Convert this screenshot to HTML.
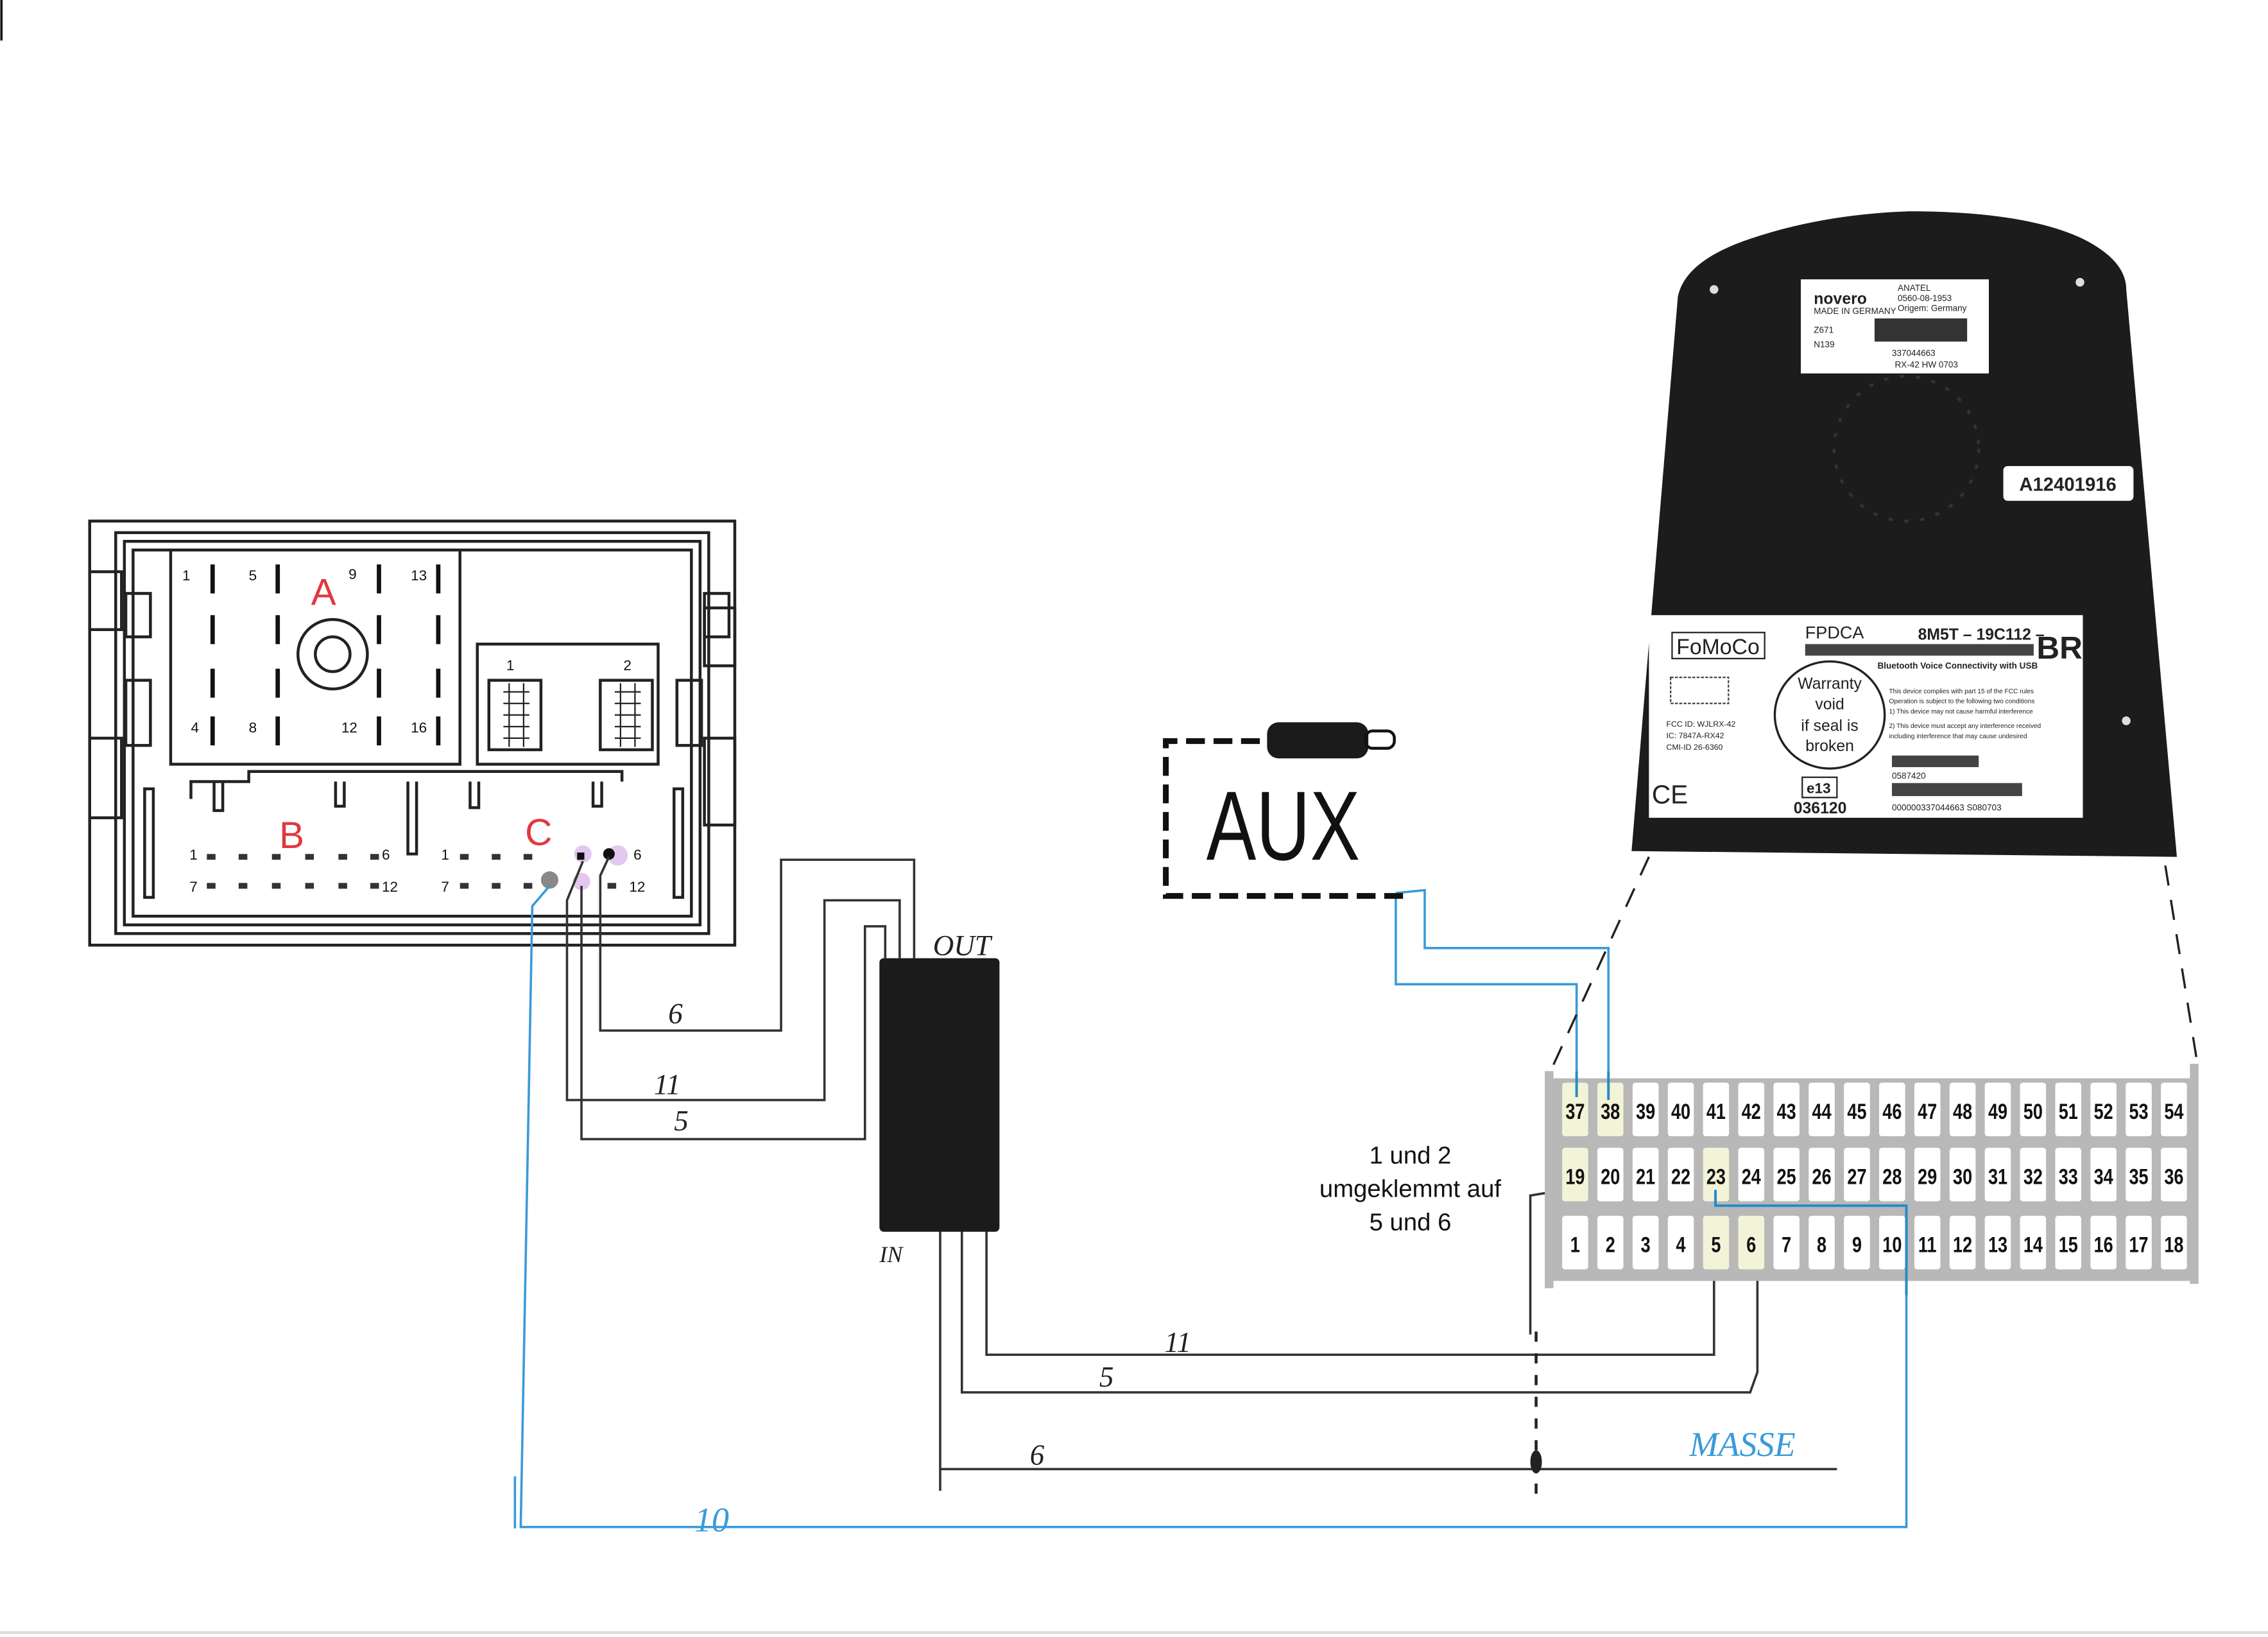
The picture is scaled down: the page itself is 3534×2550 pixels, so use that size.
<!DOCTYPE html>
<html><head><meta charset="utf-8"><style>
html,body{margin:0;padding:0;background:#fff;}
svg{display:block;}
.h{font-family:"Liberation Sans",sans-serif;}
</style></head><body>
<svg width="3534" height="2550" viewBox="0 0 1568 1131" preserveAspectRatio="none" xmlns="http://www.w3.org/2000/svg">
<rect width="1568" height="1131" fill="#fff"/>
<line x1="1" y1="0" x2="1" y2="28" stroke="#000" stroke-width="1.5"/>
<line x1="0" y1="1128" x2="1568" y2="1128" stroke="#ddd" stroke-width="2"/>

<!-- LEFT CONNECTOR -->
<g fill="none" stroke="#222" stroke-width="2">
 <rect x="62" y="360" width="446" height="293"/>
 <rect x="80" y="368" width="410" height="277"/>
 <rect x="86" y="374" width="398" height="265"/>
 <rect x="92" y="380" width="386" height="253"/>
 <rect x="62" y="395" width="22" height="40"/><rect x="62" y="510" width="22" height="55"/>
 <rect x="87" y="410" width="17" height="30"/><rect x="487" y="410" width="17" height="30"/>
 <rect x="87" y="470" width="17" height="45"/><rect x="468" y="470" width="17" height="45"/>
 <rect x="487" y="420" width="21" height="40"/><rect x="487" y="510" width="21" height="60"/>
 <rect x="100" y="545" width="6" height="75"/><rect x="466" y="545" width="6" height="75"/>
 <rect x="118" y="380" width="200" height="148"/>
 <rect x="330" y="445" width="125" height="83"/>
 <rect x="338" y="470" width="36" height="48"/><rect x="415" y="470" width="36" height="48"/>
 <circle cx="230" cy="452" r="24"/><circle cx="230" cy="452" r="12"/>
 <path d="M132 552 V540 H172 V533 H430 V540"/>
 <path d="M148 540 V560 H154 V540 M232 540 V557 H238 V540 M282 540 V590 H288 V540 M325 540 V558 H331 V540 M410 540 V557 H416 V540"/>
 <path d="M348 478 H366 M348 486 H366 M348 494 H366 M348 502 H366 M348 510 H366 M352 472 V516 M362 472 V516 M425 478 H443 M425 486 H443 M425 494 H443 M425 502 H443 M425 510 H443 M429 472 V516 M439 472 V516" stroke-width="1"/>
</g>
<g stroke="#111" stroke-width="3">
 <path d="M147 390 V410 M147 425 V445 M147 462 V482 M147 495 V515 M192 390 V410 M192 425 V445 M192 462 V482 M192 495 V515 M262 390 V410 M262 425 V445 M262 462 V482 M262 495 V515 M303 390 V410 M303 425 V445 M303 462 V482 M303 495 V515"/>
</g>
<g class="h" font-size="10" fill="#111">
 <text x="126" y="401">1</text><text x="172" y="401">5</text><text x="241" y="400">9</text><text x="284" y="401">13</text>
 <text x="132" y="506">4</text><text x="172" y="506">8</text><text x="236" y="506">12</text><text x="284" y="506">16</text>
 <text x="350" y="463">1</text><text x="431" y="463">2</text>
 <text x="131" y="594">1</text><text x="264" y="594">6</text><text x="131" y="616">7</text><text x="264" y="616">12</text>
 <text x="305" y="594">1</text><text x="438" y="594">6</text><text x="305" y="616">7</text><text x="435" y="616">12</text>
</g>
<g fill="#333"><path d="M143 590h6v4h-6z M165 590h6v4h-6z M188 590h6v4h-6z M211 590h6v4h-6z M234 590h6v4h-6z M256 590h6v4h-6z M143 610h6v4h-6z M165 610h6v4h-6z M188 610h6v4h-6z M211 610h6v4h-6z M234 610h6v4h-6z M256 610h6v4h-6z M318 590h6v4h-6z M340 590h6v4h-6z M362 590h6v4h-6z M318 610h6v4h-6z M340 610h6v4h-6z M362 610h6v4h-6z M420 610h6v4h-6z"/></g>
<circle cx="403" cy="590" r="6" fill="#e2c8ee"/><circle cx="427" cy="591" r="7" fill="#e2c8ee"/><circle cx="402" cy="609" r="6" fill="#e2c8ee"/><circle cx="380" cy="608" r="6" fill="#888"/>
<rect x="399" y="589" width="5" height="5" fill="#111"/><circle cx="421" cy="590" r="4" fill="#111"/>
<g class="h" font-size="26" fill="#e0393e"><text x="215" y="418">A</text><text x="193" y="586">B</text><text x="363" y="584">C</text></g>

<!-- black wires -->
<g fill="none" stroke="#333" stroke-width="1.6">
 <path d="M421 592 L415 605 V712 H540 V594 H632 V662"/>
 <path d="M403 595 L392 622 V760 H570 V622 H622 V662"/>
 <path d="M402 612 V787 H598 V640 H612 V662"/>
 <path d="M682 850 V936 H1185 V877"/>
 <path d="M665 850 V962 H1210 L1215 948 V877"/>
 <path d="M650 850 V1030 M650 1015 H1270"/>
 <path d="M1082 822 L1058 826 V922"/>
</g>
<line x1="1062" y1="920" x2="1062" y2="1038" stroke="#222" stroke-width="2" stroke-dasharray="7,8"/>
<ellipse cx="1062" cy="1010" rx="4" ry="8" fill="#222"/>
<rect x="608" y="662" width="83" height="189" rx="3" fill="#1b1b1b"/>

<!-- blue wires -->
<g fill="none" stroke="#3a9ad8" stroke-width="1.6">
 <path d="M380 612 L368 626 L360 1055 H1318 V885"/>
 <path d="M356 1020 V1056"/>
 <path d="M965 617 L985 615 V655 H1112 V740"/>
 <path d="M965 620 V680 H1090 V740"/>
</g>

<!-- AUX -->
<path d="M970 619 H806 V512 H872" fill="none" stroke="#111" stroke-width="4" stroke-dasharray="13,6"/>
<rect x="876" y="499" width="70" height="25" rx="8" fill="#1b1b1b"/>
<rect x="944" y="505" width="20" height="12" rx="5" fill="none" stroke="#111" stroke-width="2"/>
<text x="834" y="594" class="h" font-size="68" fill="#111" transform="translate(834,594) scale(0.76,1) translate(-834,-594)">AUX</text>

<!-- dashed projection -->
<g stroke="#222" stroke-width="1.5" stroke-dasharray="14,10"><line x1="1140" y1="592" x2="1072" y2="740"/><line x1="1497" y1="598" x2="1520" y2="740"/></g>

<!-- DEVICE -->
<path d="M1128 588 L1160 205 Q1165 180 1210 165 Q1260 148 1320 146 Q1400 146 1440 165 Q1470 180 1470 200 L1505 592 Z" fill="#1c1c1c"/>
<rect x="1245" y="193" width="130" height="65" fill="#fff"/>
<g class="h" fill="#222" font-size="6"><text x="1254" y="210" font-size="11" font-weight="bold">novero</text><text x="1254" y="217">MADE IN GERMANY</text><text x="1254" y="230">Z671</text><text x="1254" y="240">N139</text><text x="1312" y="201">ANATEL</text><text x="1312" y="208">0560-08-1953</text><text x="1312" y="215">Origem: Germany</text><text x="1308" y="246">337044663</text><text x="1310" y="254">RX-42  HW 0703</text></g>
<rect x="1296" y="220" width="64" height="16" fill="#333"/>
<rect x="1385" y="322" width="90" height="24" rx="3" fill="#fff"/>
<text x="1396" y="339" class="h" font-size="13" font-weight="bold" fill="#222">A12401916</text>
<circle cx="1318" cy="310" r="50" fill="none" stroke="#333" stroke-width="2" stroke-dasharray="3,8"/>
<circle cx="1185" cy="200" r="3" fill="#ddd"/><circle cx="1438" cy="195" r="3" fill="#ddd"/><circle cx="1470" cy="498" r="3" fill="#ddd"/>
<rect x="1140" y="425" width="300" height="140" fill="#fff"/>
<g class="h" fill="#222">
 <rect x="1156" y="437" width="64" height="18" fill="none" stroke="#222"/>
 <text x="1159" y="452" font-size="15">FoMoCo</text>
 <text x="1248" y="441" font-size="12">FPDCA</text>
 <text x="1326" y="442" font-size="11" font-weight="bold">8M5T – 19C112 –</text>
 <text x="1408" y="455" font-size="22" font-weight="bold">BR</text>
 <rect x="1248" y="445" width="158" height="8" fill="#444"/>
 <text x="1298" y="462" font-size="6" font-weight="bold">Bluetooth Voice Connectivity with USB</text>
 <ellipse cx="1265" cy="494" rx="38" ry="37" fill="none" stroke="#222" stroke-width="1.5"/>
 <text x="1265" y="476" font-size="11" text-anchor="middle">Warranty</text>
 <text x="1265" y="490" font-size="11" text-anchor="middle">void</text>
 <text x="1265" y="505" font-size="11" text-anchor="middle">if seal is</text>
 <text x="1265" y="519" font-size="11" text-anchor="middle">broken</text>
 <rect x="1155" y="468" width="40" height="18" fill="none" stroke="#444" stroke-dasharray="2,1"/>
 <text x="1152" y="502" font-size="5.5">FCC ID: WJLRX-42</text><text x="1152" y="510" font-size="5.5">IC: 7847A-RX42</text><text x="1152" y="518" font-size="5.5">CMI-ID 26-6360</text>
 <text x="1142" y="555" font-size="18">CE</text>
 <rect x="1246" y="537" width="24" height="14" fill="none" stroke="#222"/>
 <text x="1249" y="548" font-size="10" font-weight="bold">e13</text>
 <text x="1240" y="562" font-size="11" font-weight="bold">036120</text>
 <text x="1306" y="479" font-size="4.5">This device complies with part 15 of the FCC rules</text>
 <text x="1306" y="486" font-size="4.5">Operation is subject to the following two conditions</text>
 <text x="1306" y="493" font-size="4.5">1) This device may not cause harmful interference</text>
 <text x="1306" y="503" font-size="4.5">2) This device must accept any interference received</text>
 <text x="1306" y="510" font-size="4.5">including interference that may cause undesired</text>
 <rect x="1308" y="522" width="60" height="8" fill="#444"/>
 <text x="1308" y="538" font-size="6">0587420</text>
 <rect x="1308" y="541" width="90" height="9" fill="#444"/>
 <text x="1308" y="560" font-size="6">000000337044663   S080703</text>
</g>

<!-- RIGHT CONNECTOR -->
<rect x="1072" y="745" width="446" height="140" fill="#b8b8b8"/>
<rect x="1068" y="740" width="6" height="150" fill="#b8b8b8"/><rect x="1514" y="735" width="6" height="152" fill="#b8b8b8"/>
<g id="cells" class="h" font-size="15" font-weight="bold" fill="#111" text-anchor="middle">
</g>
<!-- wires over connector -->
<g fill="none" stroke="#2a8ac8" stroke-width="1.8"><path d="M1090 740 V758 M1112 740 V760 M1318 895 V833 H1186 V822"/></g>

<!-- labels -->
<g class="h" font-size="17" fill="#111" text-anchor="middle">
 <text x="975" y="804">1 und 2</text><text x="975" y="827">umgeklemmt auf</text><text x="975" y="850">5 und 6</text>
</g>
<g font-family="'Liberation Serif',serif" font-style="italic" fill="#222" font-size="20">
 <text x="645" y="660">OUT</text><text x="608" y="872" font-size="16">IN</text>
 <text x="462" y="707">6</text><text x="452" y="756">11</text><text x="466" y="781">5</text>
 <text x="805" y="934">11</text><text x="760" y="958">5</text><text x="712" y="1012">6</text>
</g>
<g font-family="'Liberation Serif',serif" font-style="italic" fill="#3a9ad8">
 <text x="480" y="1058" font-size="24">10</text><text x="1168" y="1006" font-size="24">MASSE</text>
</g>
</svg>
<script>
(function(){
 var g=document.getElementById('cells'),ns='http://www.w3.org/2000/svg';
 var rows=[{y:748,s:37},{y:793,s:19},{y:840,s:1}];
 var hl={37:1,38:1,19:1,23:1,5:1,6:1};
 rows.forEach(function(r){
  for(var i=0;i<18;i++){
   var x=1080+i*24.35,n=r.s+i;
   var rc=document.createElementNS(ns,'rect');
   rc.setAttribute('x',x);rc.setAttribute('y',r.y);rc.setAttribute('width',18);rc.setAttribute('height',37);rc.setAttribute('rx',2);
   rc.setAttribute('fill',hl[n]?'#f3f3d8':'#fff');g.appendChild(rc);
   var t=document.createElementNS(ns,'text');
   t.setAttribute('x',x+9);t.setAttribute('y',r.y+25);t.setAttribute('transform','translate('+(x+9)+','+(r.y+25)+') scale(0.8,1) translate('+(-(x+9))+','+(-(r.y+25))+')');
   t.textContent=n;g.appendChild(t);
  }
 });
})();
</script>
</body></html>
